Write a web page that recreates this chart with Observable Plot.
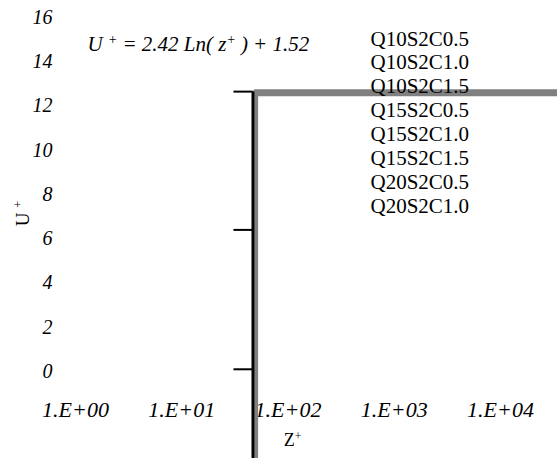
<!DOCTYPE html>
<html><head><meta charset="utf-8">
<script src="https://cdn.jsdelivr.net/npm/d3@7"></script>
<script src="https://cdn.jsdelivr.net/npm/@observablehq/plot@0.6"></script>
<style>
body{margin:0;background:#fff;}
</style></head><body><div id="chart"></div>
<script>
// ---- data ----
const xTicks = [1, 10, 100, 1000, 10000];
const xTickLabels = ["1.E+00", "1.E+01", "1.E+02", "1.E+03", "1.E+04"];
const yTicks = [0, 2, 4, 6, 8, 10, 12, 14, 16];
const seriesNames = ["Q10S2C0.5", "Q10S2C1.0", "Q10S2C1.5", "Q15S2C0.5", "Q15S2C1.0", "Q15S2C1.5", "Q20S2C0.5", "Q20S2C1.0"];
const grayZ = [48.5, 48.5, 100000];
const grayU = [-4.2, 12.6, 12.6];
const blackZ = [47, 47];
const blackU = [-4.2, 12.65];
const markU = [0.1, 6.4, 12.65];
const markZStart = 31;
const markZEnd = 47;
const equation = "U ⁺ = 2.42 Ln( z⁺ ) + 1.52";
const xLabel = "Z⁺";
const yLabel = "U ⁺";

const serif = "'Liberation Serif', 'Times New Roman', serif";
const idx = a => a.map((_, i) => i);

const chart = Plot.plot({
  width: 557, height: 458,
  marginLeft: 75, marginRight: 57, marginTop: 17, marginBottom: 87,
  style: {fontFamily: serif, background: "#fff", color: "#000", overflow: "hidden"},
  x: {type: "log", domain: [1, 10000]},
  y: {domain: [0, 16]},
  marks: [
    Plot.axisY({ticks: yTicks, tickSize: 0, tickPadding: 23, fontSize: 20, fontStyle: "italic", label: null, fill: "#000"}),
    Plot.axisX({ticks: xTicks, tickSize: 0, tickPadding: 30, fontSize: 22, fontStyle: "italic", label: null, fill: "#000",
      tickFormat: d => xTickLabels[xTicks.indexOf(d)]}),
    Plot.line(idx(grayZ), {x: i => grayZ[i], y: i => grayU[i], stroke: "#808080", strokeWidth: 7, strokeLinejoin: "miter", strokeLinecap: "butt"}),
    Plot.line(idx(blackZ), {x: i => blackZ[i], y: i => blackU[i], stroke: "#000", strokeWidth: 2.5, strokeLinecap: "butt"}),
    Plot.ruleY(markU, {y: d => d, x1: markZStart, x2: markZEnd, stroke: "#000", strokeWidth: 2}),
    Plot.text([equation], {frameAnchor: "top-left", textAnchor: "start", lineAnchor: "bottom", dx: 12, dy: 33, fontSize: 21, fontStyle: "italic", fill: "#000"}),
    Plot.text([seriesNames.join("\n")], {frameAnchor: "top-left", textAnchor: "start", lineAnchor: "top", dx: 295, dy: 11, fontSize: 21, lineHeight: 1.14, fill: "#000"}),
    Plot.text([xLabel], {frameAnchor: "bottom", textAnchor: "middle", lineAnchor: "bottom", dx: 4.5, dy: 74, fontSize: 18, fill: "#000"}),
    Plot.text([yLabel], {frameAnchor: "left", textAnchor: "middle", lineAnchor: "middle", rotate: -90, dx: -53, dy: 19, fontSize: 19, fill: "#000"})
  ]
});
document.getElementById("chart").appendChild(chart);

// render the "⁺" characters as raised small plus signs
const svgns = "http://www.w3.org/2000/svg";
d3.select(chart).selectAll("text, tspan").each(function() {
  const nodes = Array.from(this.childNodes).filter(n => n.nodeType === 3 && n.nodeValue.includes("⁺"));
  for (const n of nodes) {
    const parts = n.nodeValue.split("⁺");
    parts.forEach((p, i) => {
      if (p) this.insertBefore(document.createTextNode(p), n);
      if (i < parts.length - 1) {
        const t = document.createElementNS(svgns, "tspan");
        t.setAttribute("baseline-shift", "super");
        t.setAttribute("font-size", "65%");
        t.textContent = "+";
        this.insertBefore(t, n);
      }
    });
    this.removeChild(n);
  }
});
</script>
</body></html>
